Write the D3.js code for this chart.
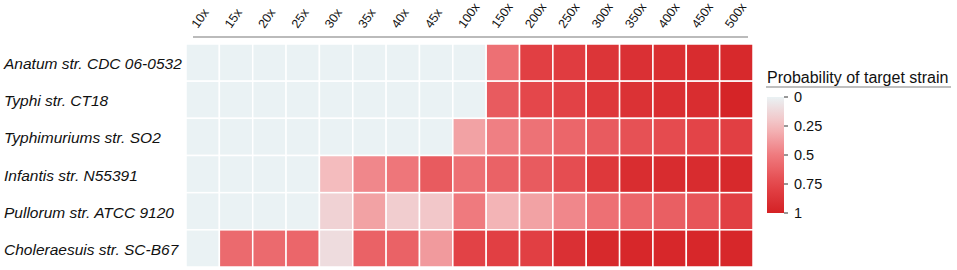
<!DOCTYPE html>
<html>
<head>
<meta charset="utf-8">
<script src="https://cdn.jsdelivr.net/npm/d3@7"></script>
<style>
  body { margin: 0; background: #fff; }
  text { font-family: "Liberation Sans", Arial, sans-serif; fill: #111; }
</style>
</head>
<body>
<svg id="chart-svg"></svg>
<script>
// Data
const coverages = ["10x", "15x", "20x", "25x", "30x", "35x", "40x", "45x", "100x",
  "150x", "200x", "250x", "300x", "350x", "400x", "450x", "500x"];
const strains = [
  "Anatum str. CDC 06-0532",
  "Typhi str. CT18",
  "Typhimuriums str. SO2",
  "Infantis str. N55391",
  "Pullorum str. ATCC 9120",
  "Choleraesuis str. SC-B67"
];
const anatum = [0, 0, 0, 0, 0, 0, 0, 0, 0, 0.55, 0.8, 0.82, 0.87, 0.9, 0.91, 0.93, 0.95];
const typhi = [0, 0, 0, 0, 0, 0, 0, 0, 0, 0.65, 0.75, 0.78, 0.85, 0.89, 0.91, 0.92, 0.98];
const typhimurium = [0, 0, 0, 0, 0, 0, 0, 0, 0.35, 0.48, 0.54, 0.6, 0.65, 0.7, 0.73, 0.77, 0.8];
const infantis = [0, 0, 0, 0, 0.25, 0.45, 0.52, 0.65, 0.55, 0.62, 0.65, 0.72, 0.85, 0.92, 0.93, 0.93, 0.95];
const pullorum = [0, 0, 0, 0, 0.15, 0.35, 0.17, 0.2, 0.5, 0.28, 0.35, 0.45, 0.55, 0.6, 0.63, 0.68, 0.8];
const choleraesuis = [0, 0.58, 0.58, 0.6, 0.1, 0.62, 0.62, 0.38, 0.78, 0.8, 0.8, 0.9, 0.95, 0.96, 0.96, 0.96, 0.96];
const rowValues = [anatum, typhi, typhimurium, infantis, pullorum, choleraesuis];
const legendTicks = [0, 0.25, 0.5, 0.75, 1];
const legendTitle = "Probability of target strain";

const width = 957, height = 270;
const svg = d3.select("#chart-svg").attr("width", width).attr("height", height);

// celler som lange data
const cells = [];
strains.forEach((s, i) => {
  rowValues[i].forEach((v, j) => cells.push({ strain: s, cov: coverages[j], value: v }));
});

const x = d3.scaleBand().domain(coverages).range([186, 753]);
const y = d3.scaleBand().domain(strains).range([44, 267]);

// farveskala, lyst graa-blaa til roed
const color = d3.scaleLinear()
  .domain([0, 0.25, 0.5, 0.75, 1])
  .range(["#eaf2f4", "#f4bcbe", "#ef7a7e", "#e4474b", "#d42124"]);

// tiles
svg.append("g")
  .selectAll("rect")
  .data(cells)
  .join("rect")
  .attr("x", d => x(d.cov))
  .attr("y", d => y(d.strain))
  .attr("width", x.bandwidth())
  .attr("height", y.bandwidth())
  .attr("fill", d => color(d.value))
  .attr("stroke", "#fff")
  .attr("stroke-width", 1.5);

// top axis line
svg.append("line")
  .attr("x1", x(coverages[0]) + 7).attr("x2", x.range()[1] - 5)
  .attr("y1", 37).attr("y2", 37)
  .attr("stroke", "#bbb").attr("stroke-width", 2);

// column labels
svg.append("g")
  .selectAll("text")
  .data(coverages)
  .join("text")
  .attr("transform", d => `translate(${x(d) + x.bandwidth() / 2 - 5},29) rotate(-55)`)
  .attr("font-size", 12.5)
  .text(d => d);

// row labels (venstrestillet)
svg.append("g")
  .selectAll("text")
  .data(strains)
  .join("text")
  .attr("x", 4)
  .attr("y", d => y(d) + y.bandwidth() / 2 + 1)
  .attr("dy", "0.35em")
  .attr("font-size", 15.5)
  .attr("font-style", "italic")
  .text(d => d);

// legend
const lg = svg.append("g");
lg.append("text").attr("x", 767).attr("y", 83).attr("font-size", 16).text(legendTitle);
lg.append("line").attr("x1", 766).attr("x2", 951).attr("y1", 87).attr("y2", 87)
  .attr("stroke", "#aaa").attr("stroke-width", 1.5);

const ly = d3.scaleLinear().domain([0, 1]).range([97, 213]);
const grad = svg.append("defs").append("linearGradient")
  .attr("id", "lgrad").attr("x1", 0).attr("x2", 0).attr("y1", 0).attr("y2", 1);
d3.range(0, 1.01, 0.1).forEach(t => {
  grad.append("stop").attr("offset", t).attr("stop-color", color(t));
});
lg.append("rect").attr("x", 767).attr("y", ly(0)).attr("width", 17)
  .attr("height", ly(1) - ly(0)).attr("fill", "url(#lgrad)");

const ticks = lg.selectAll(".tk").data(legendTicks).join("g").attr("class", "tk")
  .attr("transform", d => `translate(784,${ly(d)})`);
ticks.append("line").attr("x1", 0).attr("x2", 4).attr("stroke", "#333");
ticks.append("text").attr("x", 10).attr("dy", "0.35em").attr("font-size", 14.5).text(d => d);
</script>
</body>
</html>
